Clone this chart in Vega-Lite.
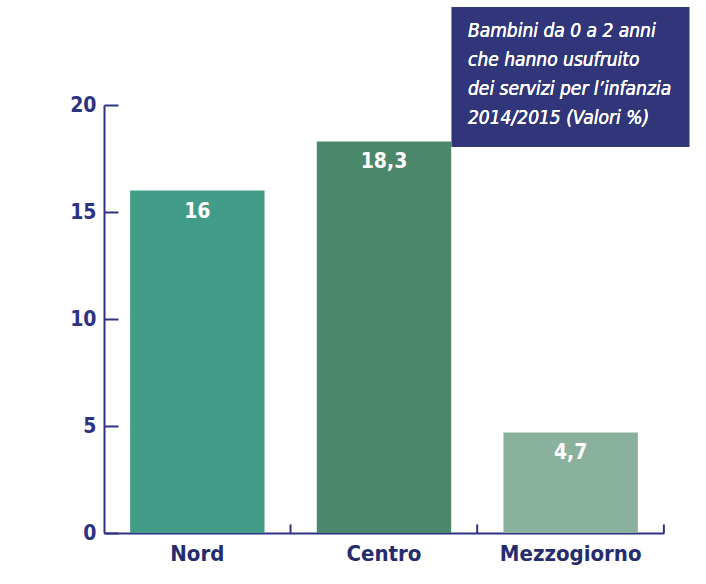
{
  "$schema": "https://vega.github.io/schema/vega-lite/v6.json",
  "width": 560,
  "height": 428,
  "autosize": {"type": "none"},
  "padding": {"left": 104, "top": 105, "right": 42, "bottom": 51},
  "background": "white",
  "config": {
    "view": {"stroke": null},
    "font": "DejaVu Sans Condensed, sans-serif"
  },
  "data": {
    "values": [
      {"Regione": "Nord", "Valore": 16, "Etichetta": "16"},
      {"Regione": "Centro", "Valore": 18.3, "Etichetta": "18,3"},
      {"Regione": "Mezzogiorno", "Valore": 4.7, "Etichetta": "4,7"}
    ]
  },
  "layer": [
    {
      "layer": [
        {
          "mark": {"type": "bar"},
          "encoding": {
            "color": {
              "field": "Regione", "type": "nominal", "legend": null,
              "scale": {"domain": ["Nord", "Centro", "Mezzogiorno"], "range": ["#429c87", "#4b876b", "#8ab19d"]}
            }
          }
        },
        {
          "mark": {"type": "text", "color": "white", "fontWeight": "bold", "fontSize": 21, "baseline": "middle", "dy": 21},
          "encoding": {
            "text": {"field": "Etichetta"}
          }
        },
        {
          "mark": {"type": "rule", "color": "#2d3282", "strokeWidth": 2, "xOffset": 26},
          "encoding": {
            "x": {"field": "Regione", "type": "nominal", "sort": null, "bandPosition": 1},
            "y": {"datum": 0, "type": "quantitative"},
            "y2": {"datum": 0.4}
          }
        }
      ],
      "encoding": {
        "x": {
          "field": "Regione", "type": "nominal", "sort": null,
          "scale": {"paddingInner": 0.28, "paddingOuter": 0.14},
          "axis": {
            "title": null, "labelAngle": 0,
            "labelFontSize": 22, "labelFontWeight": "bold", "labelColor": "#252c6b",
            "labelPadding": 10, "ticks": false,
            "domainColor": "#2d3282", "domainWidth": 2
          }
        },
        "y": {
          "field": "Valore", "type": "quantitative",
          "scale": {"domain": [0, 20], "nice": false},
          "axis": {
            "title": null, "values": [0, 5, 10, 15, 20], "grid": false,
            "labelFontSize": 21, "labelFontWeight": "bold", "labelColor": "#2d3282",
            "labelPadding": 22,
            "domainColor": "#2d3282", "domainWidth": 2,
            "tickColor": "#2d3282", "tickWidth": 2, "tickSize": -14
          }
        }
      }
    },
    {
      "mark": {"type": "rect", "color": "#31367a", "clip": false},
      "encoding": {
        "x": {"datum": 0.621, "type": "quantitative", "scale": {"domain": [0, 1], "nice": false, "zero": false}, "axis": null},
        "x2": {"datum": 1.045},
        "y": {"datum": 24.58, "type": "quantitative"},
        "y2": {"datum": 18.04}
      }
    },
    {
      "mark": {
        "type": "text", "color": "white", "fontStyle": "italic", "fontSize": 19,
        "align": "left", "baseline": "alphabetic", "lineHeight": 29, "clip": false,
        "text": ["Bambini da 0 a 2 anni", "che hanno usufruito", "dei servizi per l\u2019infanzia", "2014/2015 (Valori %)"]
      },
      "encoding": {
        "x": {"datum": 0.65, "type": "quantitative", "scale": {"domain": [0, 1], "nice": false, "zero": false}, "axis": null},
        "y": {"datum": 23.18, "type": "quantitative"}
      }
    }
  ],
  "resolve": {"scale": {"x": "independent"}}
}
